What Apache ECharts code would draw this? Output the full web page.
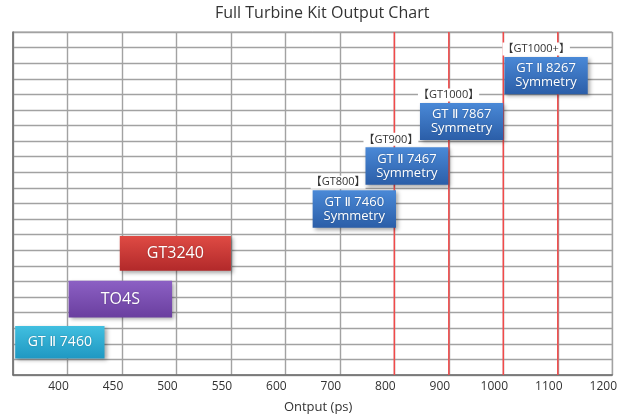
<!DOCTYPE html>
<html>
<head>
<meta charset="utf-8">
<script src="https://cdn.jsdelivr.net/npm/echarts@6/dist/echarts.min.js"></script>
<style>html,body{margin:0;padding:0;background:#fff}#c{width:620px;height:419px}</style>
</head>
<body>
<div id="c"></div>
<script>
// Tick labels of the (piecewise) output axis, left border first
const tickValues = [350, 400, 450, 500, 550, 600, 700, 800, 900, 1000, 1100, 1200];
// Kits
const kitNames = ['GT Ⅱ 7460', 'TO4S', 'GT3240', 'GT Ⅱ 7460\nSymmetry', 'GT Ⅱ 7467\nSymmetry', 'GT Ⅱ 7867\nSymmetry', 'GT Ⅱ 8267\nSymmetry'];
const kitTags = ['', '', '', '【GT800】', '【GT900】', '【GT1000】', '【GT1000+】'];
const outputMin = [352, 401, 448, 650, 747, 847, 1002];
const outputMax = [434, 496, 550, 803, 899, 1000, 1155];
const rowLow = [1.06, 3.69, 6.69, 9.45, 12.2, 15.08, 18.0];
const rowHigh = [3.15, 6.05, 8.92, 11.85, 14.6, 17.45, 20.4];
const redLineValues = [800, 900, 1000, 1100];

const palette = [
  ['#41bfe0', '#1f98c2'],
  ['#8c60c4', '#6a3f9f'],
  ['#df4b44', '#b2292a'],
  ['#4a89d7', '#2b5ea8'],
  ['#4a89d7', '#2b5ea8'],
  ['#4a89d7', '#2b5ea8'],
  ['#4a89d7', '#2b5ea8']
];
const nameSizes = [14, 16, 16, 13, 13, 13, 13];

// map output value (ps) onto the piecewise axis position
function toPos(v) {
  for (let i = 0; i < tickValues.length - 1; i++) {
    if (v <= tickValues[i + 1]) {
      return i + (v - tickValues[i]) / (tickValues[i + 1] - tickValues[i]);
    }
  }
  return tickValues.length - 1;
}

const kitData = kitNames.map((n, i) => [toPos(outputMin[i]), toPos(outputMax[i]), rowLow[i], rowHigh[i], i]);
const redData = redLineValues.map(v => [toPos(v)]);

const FONT = "'Open Sans', 'DejaVu Sans', 'Noto Sans CJK JP', sans-serif";
const chart = echarts.init(document.getElementById('c'));
chart.setOption({
  animation: false,
  title: {
    text: 'Full Turbine Kit Output Chart',
    left: 210, top: 0,
    textStyle: { fontFamily: FONT, fontSize: 16, fontWeight: 'normal', color: '#333333' }
  },
  grid: { left: 13, right: 7, top: 32, bottom: 42, show: true, borderColor: '#9a9a9a', borderWidth: 1 },
  xAxis: {
    type: 'value', min: 0, max: tickValues.length - 1, interval: 1,
    name: 'Ontput (ps)', nameLocation: 'middle', nameGap: 26,
    nameTextStyle: { fontFamily: FONT, fontSize: 13, color: '#333333', padding: [0, 0, 0, 11] },
    axisLine: { show: true, lineStyle: { color: '#6e6e6e', width: 1.5 } },
    axisTick: { show: false },
    axisLabel: {
      margin: 6, fontFamily: FONT, fontSize: 12, color: '#333333',
      padding: [0, 18, 0, 0],
      formatter: v => (v === 0 ? '' : String(tickValues[Math.round(v)]))
    },
    splitLine: { show: true, lineStyle: { color: '#a2a2a2', width: 1.4 } }
  },
  yAxis: {
    type: 'value', min: 0, max: 22, interval: 1,
    axisLine: { show: true, lineStyle: { color: '#6e6e6e', width: 1.5 } },
    axisTick: { show: false },
    axisLabel: { show: false },
    splitLine: { show: true, lineStyle: { color: '#a2a2a2', width: 1.4 } }
  },
  series: [
    {
      type: 'custom', z: 3, silent: true,
      data: redData,
      renderItem: (params, api) => {
        const x = api.value(0);
        const p0 = api.coord([x, 0]);
        const p1 = api.coord([x, 22]);
        return { type: 'line', shape: { x1: p0[0], y1: p0[1], x2: p1[0], y2: p1[1] },
          style: { stroke: '#f24a4a', lineWidth: 1.5 } };
      }
    },
    {
      type: 'custom', z: 5, silent: true,
      data: kitData,
      renderItem: (params, api) => {
        const i = api.value(4);
        const a = api.coord([api.value(0), api.value(3)]);
        const b = api.coord([api.value(1), api.value(2)]);
        const w = b[0] - a[0], h = b[1] - a[1];
        const cols = palette[i];
        const children = [
          {
            type: 'rect', shape: { x: a[0], y: a[1], width: w, height: h },
            style: {
              fill: new echarts.graphic.LinearGradient(0, 0, 0, 1, [
                { offset: 0, color: cols[0] }, { offset: 1, color: cols[1] }]),
              shadowBlur: 4, shadowOffsetX: 2, shadowOffsetY: 2, shadowColor: 'rgba(0,0,0,0.35)'
            }
          },
          {
            type: 'text',
            style: {
              x: a[0] + w / 2, y: a[1] + h / 2, text: kitNames[i],
              align: 'center', verticalAlign: 'middle',
              fill: '#ffffff', fontFamily: FONT, fontSize: nameSizes[i], lineHeight: nameSizes[i] + 1,
              textShadowColor: 'rgba(0,0,0,0.25)', textShadowBlur: 2
            }
          }
        ];
        if (kitTags[i]) {
          children.push({
            type: 'text',
            style: {
              x: a[0] - 2, y: a[1] - 8, text: kitTags[i],
              align: 'left', verticalAlign: 'middle',
              fill: '#333333', fontFamily: FONT, fontSize: 11,
              backgroundColor: '#ffffff', padding: [1, 0, 1, 0]
            }
          });
        }
        return { type: 'group', children };
      }
    }
  ]
});
</script>
</body>
</html>
